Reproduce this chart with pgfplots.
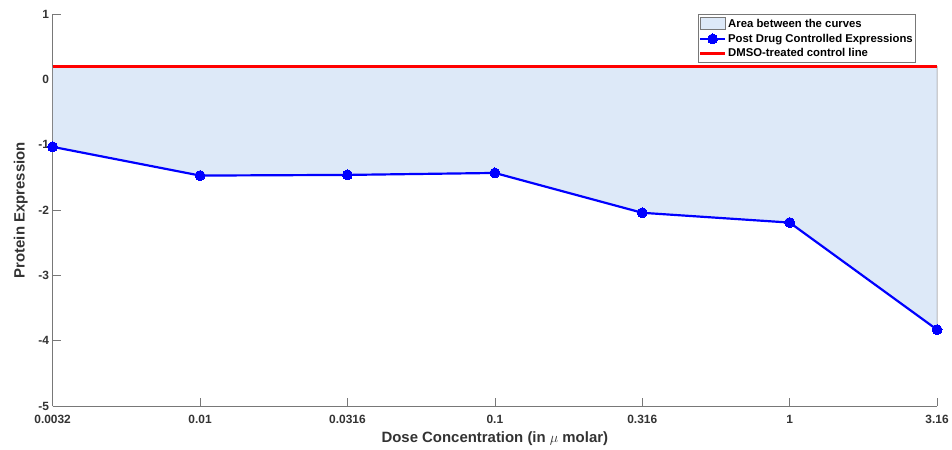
\documentclass[border=0pt]{standalone}
\usepackage{pgfplots}
\pgfplotsset{compat=1.18}
\usepackage{fontspec}
\setmainfont{Liberation Sans}

\definecolor{areafill}{RGB}{221,233,248}
\definecolor{axisgray}{RGB}{120,120,120}
\definecolor{mblue}{RGB}{0,0,255}
\definecolor{mred}{RGB}{255,0,0}

\pgfplotsset{
  linelegend/.style={legend image code/.code={
    \draw[mark repeat=2, mark phase=2, ##1]
      plot coordinates {(0bp,0bp) (12.5bp,0bp) (25bp,0bp)};}},
  boxlegend/.style={legend image code/.code={
    \draw[##1] (0bp,-5bp) rectangle (25bp,7bp);}},
}

\begin{document}
\begin{tikzpicture}
\begin{axis}[
  scale only axis,
  width=885.8bp, height=392.4bp,
  xmin=0, xmax=6, ymin=-5, ymax=1,
  axis x line*=bottom, axis y line*=left,
  axis line style={axisgray, line width=0.6pt, -},
  xtick={0,1,2,3,4,5,6},
  xticklabels={0.0032,0.01,0.0316,0.1,0.316,1,3.16},
  ytick={-5,-4,-3,-2,-1,0,1},
  tick align=inside,
  major tick length=8bp,
  tick style={axisgray, line width=0.6pt},
  /pgf/number format/assume math mode=true,
  ticklabel style={font=\fontsize{12}{14}\selectfont\bfseries, text=black!80},
  xticklabel style={yshift=-6bp},
  xlabel={Dose Concentration (in $\mu$ molar)},
  ylabel={Protein Expression},
  label style={font=\fontsize{15}{17}\selectfont\bfseries, text=black!80},
  xlabel style={yshift=-1bp},
  ylabel style={yshift=4bp},
  clip=false,
  legend cell align=left,
  legend style={
    at={(rel axis cs:0.9757,1)}, anchor=north east,
    font=\fontsize{11.4}{13}\selectfont\bfseries,
    draw=axisgray, line width=0.6pt,
    inner xsep=0.5bp, inner ysep=2.5bp,
    row sep=2.5bp,
    nodes={inner ysep=1.2bp},
    /tikz/every even column/.append style={column sep=1bp},
  },
  linelegend,
]
% shaded region between control line and response curve
\addplot[fill=areafill, draw=axisgray, line width=0.6pt, boxlegend]
  coordinates {(0,0.2) (0,-1.03) (1,-1.47) (2,-1.46) (3,-1.43) (4,-2.04) (5,-2.19) (6,-3.83) (6,0.2)} -- cycle;
\addlegendentry{Area between the curves}
% measured expression after drug treatment
\addplot[mblue, line width=2.2pt, mark=*, mark size=5bp,
  mark options={fill=mblue, draw=mblue, line width=0pt}]
  coordinates {(0,-1.03) (1,-1.47) (2,-1.46) (3,-1.43) (4,-2.04) (5,-2.19) (6,-3.83)};
\addlegendentry{Post Drug Controlled Expressions}
% DMSO reference level
\addplot[mred, line width=2.2pt] coordinates {(0,0.2) (6,0.2)};
\addlegendentry{DMSO-treated control line}
\end{axis}
\path (current axis.south west) ++(-52.7bp,-41.3bp) rectangle ++(952bp,448bp);
\end{tikzpicture}
\end{document}
